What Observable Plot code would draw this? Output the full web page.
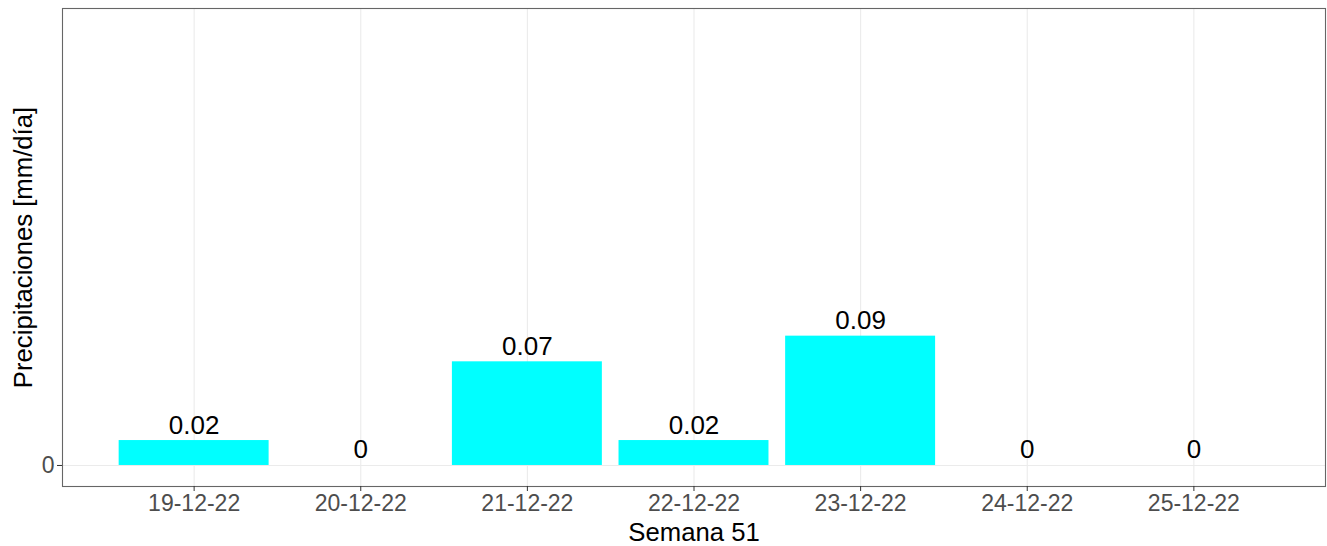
<!DOCTYPE html>
<html>
<head>
<meta charset="utf-8">
<script src="https://cdn.jsdelivr.net/npm/d3@7"></script>
<script src="https://cdn.jsdelivr.net/npm/@observablehq/plot@0.6"></script>
<style>
  html, body { margin: 0; padding: 0; background: #fff; }
</style>
</head>
<body>
<div id="chart"></div>
<script>
const dates = ["19-12-22", "20-12-22", "21-12-22", "22-12-22", "23-12-22", "24-12-22", "25-12-22"];
const precip = [0.0172, 0, 0.0715, 0.0172, 0.0892, 0, 0];
const xTitle = "Semana 51";
const yTitle = "Precipitaciones [mm/día]";

const data = dates.map((d, i) => ({
  i,
  date: d,
  value: precip[i],
  label: String(Math.round(precip[i] * 100) / 100)
}));
const idx = dates.map((d, i) => i);

const chart = Plot.plot({
  width: 1327,
  height: 546,
  marginLeft: 62,
  marginRight: 2,
  marginTop: 8,
  marginBottom: 60,
  style: { fontFamily: "'Liberation Sans', Arial, sans-serif", background: "#fff", color: "#000" },
  x: { type: "linear", domain: [-0.79, 6.79] },
  y: { domain: [-0.0145, 0.3152] },
  marks: [
    Plot.gridX(idx, { stroke: "#EBEBEB", strokeOpacity: 1, strokeWidth: 1.1 }),
    Plot.ruleY([0], { stroke: "#EBEBEB", strokeWidth: 1.1 }),
    Plot.rectY(data, { x1: d => d.i - 0.45, x2: d => d.i + 0.45, y: "value", fill: "#00FFFF" }),
    Plot.frame({ stroke: "#666", strokeWidth: 1.1 }),
    Plot.axisX({
      ticks: idx, tickFormat: i => dates[i], tickSize: 5, tickPadding: 3,
      fontSize: 23, stroke: "#333", fill: "#4D4D4D", label: null
    }),
    Plot.axisY({
      ticks: [0], tickFormat: d => String(d), tickSize: 5, tickPadding: 3,
      fontSize: 23, stroke: "#333", fill: "#4D4D4D", label: null
    }),
    Plot.text(data, {
      x: "i", y: "value", text: "label", lineAnchor: "bottom", dy: -7,
      fontSize: 26, fill: "#000"
    }),
    Plot.text([xTitle], {
      frameAnchor: "bottom", dy: 54, lineAnchor: "bottom", fontSize: 25.7, fill: "#000"
    }),
    Plot.text([yTitle], {
      frameAnchor: "left", textAnchor: "middle", rotate: -90, dx: -48.7, lineAnchor: "top", fontSize: 25.7, fill: "#000"
    })
  ]
});
document.getElementById("chart").appendChild(chart);
</script>
</body>
</html>
